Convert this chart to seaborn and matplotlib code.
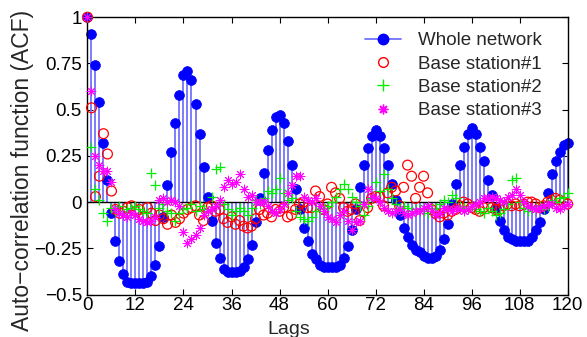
import numpy as np
import matplotlib
matplotlib.use("Agg")
import matplotlib.pyplot as plt
import seaborn as sns
from matplotlib.lines import Line2D
from matplotlib.legend_handler import HandlerLine2D

# ACF values, lags 0..120
lags = list(range(121))

whole_network = [
    1.00, 0.91, 0.74, 0.54, 0.32, 0.12, -0.06, -0.21, -0.32, -0.39,
    -0.43, -0.44, -0.44, -0.44, -0.44, -0.43, -0.40, -0.34, -0.24, -0.08,
    0.09, 0.27, 0.43, 0.58, 0.69, 0.71, 0.66, 0.53, 0.37, 0.19,
    0.03, -0.10, -0.22, -0.30, -0.36, -0.38, -0.38, -0.38, -0.37, -0.35,
    -0.31, -0.23, -0.11, 0.02, 0.16, 0.28, 0.39, 0.46, 0.47, 0.43,
    0.33, 0.20, 0.07, -0.04, -0.14, -0.21, -0.28, -0.31, -0.34, -0.35,
    -0.35, -0.35, -0.35, -0.34, -0.30, -0.24, -0.15, -0.04, 0.08, 0.20,
    0.29, 0.36, 0.39, 0.36, 0.29, 0.20, 0.10, 0.01, -0.07, -0.14,
    -0.19, -0.23, -0.26, -0.27, -0.29, -0.30, -0.30, -0.29, -0.26, -0.20,
    -0.12, -0.01, 0.10, 0.20, 0.30, 0.37, 0.40, 0.37, 0.30, 0.22,
    0.12, 0.04, -0.03, -0.10, -0.15, -0.19, -0.20, -0.21, -0.21, -0.21,
    -0.21, -0.19, -0.15, -0.11, -0.04, 0.05, 0.15, 0.22, 0.27, 0.31,
    0.32,
]

station_1 = [
    1.00, 0.51, 0.03, 0.14, 0.37, 0.26, 0.06, -0.04, -0.06, -0.05,
    -0.03, -0.02, -0.05, -0.04, -0.08, -0.03, -0.06, -0.10, -0.07, -0.09,
    -0.12, -0.07, -0.11, -0.09, -0.06, -0.04, -0.03, -0.02, -0.07, -0.10,
    -0.03, -0.02, -0.05, -0.04, -0.09, -0.11, -0.08, -0.12, -0.10, -0.13,
    -0.14, -0.13, -0.09, -0.04, -0.07, -0.06, -0.08, -0.04, -0.05, -0.03,
    -0.08, -0.07, -0.04, -0.01, 0.00, -0.03, -0.03, 0.06, 0.03, -0.04,
    -0.01, 0.08, 0.05, 0.02, -0.03, -0.05, -0.04, -0.01, -0.10, -0.05,
    -0.03, 0.02, 0.03, 0.03, -0.02, 0.05, 0.08, 0.06, -0.02, 0.08,
    0.20, 0.14, 0.02, 0.08, 0.14, 0.05, -0.04, -0.06, -0.08, -0.06,
    -0.07, -0.05, -0.04, -0.02, 0.00, -0.01, -0.03, -0.04, -0.05, -0.03,
    -0.01, -0.03, -0.04, -0.04, -0.02, -0.01, -0.02, -0.01, -0.02, -0.01,
    0.00, 0.00, -0.01, -0.03, -0.02, 0.00, 0.01, 0.02, 0.01, 0.00,
    -0.01,
]

station_2 = [
    1.00, 0.30, 0.07, 0.01, -0.06, -0.10, -0.03, -0.05, -0.02, -0.06,
    -0.04, -0.03, -0.02, -0.04, -0.05, -0.06, 0.16, 0.09, -0.03, -0.01,
    -0.05, -0.06, -0.10, -0.06, -0.04, -0.03, -0.01, -0.05, -0.02, -0.04,
    -0.05, 0.03, 0.18, 0.19, -0.01, -0.04, -0.07, -0.05, -0.03, -0.05,
    -0.07, -0.03, 0.01, -0.01, 0.02, 0.06, 0.05, 0.07, 0.13, 0.05,
    0.01, 0.02, -0.05, -0.08, -0.09, -0.10, -0.08, -0.05, -0.04, -0.03,
    -0.02, 0.00, 0.03, 0.07, 0.10, 0.07, 0.03, 0.00, -0.02, -0.07,
    -0.02, 0.02, 0.11, 0.06, 0.15, 0.07, 0.02, -0.01, -0.03, -0.02,
    -0.03, -0.05, -0.04, -0.04, -0.05, -0.06, -0.04, -0.03, -0.01, 0.01,
    0.00, 0.04, 0.02, -0.02, -0.03, -0.04, -0.02, -0.04, -0.05, -0.06,
    -0.03, -0.05, -0.07, -0.06, -0.04, -0.01, 0.12, 0.13, 0.00, -0.03,
    -0.05, -0.04, -0.03, -0.02, -0.04, -0.02, 0.01, 0.00, 0.02, 0.03,
    0.05,
]

station_3 = [
    1.00, 0.60, 0.25, 0.20, 0.17, 0.17, 0.11, -0.04, -0.06, -0.07,
    -0.08, -0.06, -0.07, -0.09, -0.10, -0.11, -0.10, -0.08, 0.01, 0.02,
    0.00, 0.01, 0.00, -0.02, -0.16, -0.22, -0.20, -0.18, -0.14, -0.07,
    -0.05, -0.04, -0.02, 0.01, 0.08, 0.12, 0.10, 0.11, 0.15, 0.07,
    0.03, 0.04, 0.00, 0.00, 0.00, -0.02, -0.05, -0.06, -0.04, -0.01,
    0.05, 0.09, 0.14, 0.14, 0.03, 0.01, 0.00, 0.02, -0.02, -0.05,
    -0.08, -0.09, -0.11, -0.07, -0.05, -0.10, -0.15, -0.11, -0.10, -0.01,
    0.07, 0.03, 0.02, 0.00, -0.03, -0.05, -0.06, -0.05, -0.04, -0.06,
    -0.07, -0.06, -0.05, -0.05, -0.03, -0.02, -0.05, -0.07, -0.06, -0.03,
    -0.04, -0.05, -0.03, -0.04, -0.05, -0.04, -0.02, -0.01, 0.00, 0.02,
    0.02, 0.03, 0.02, 0.01, 0.00, 0.03, 0.04, 0.07, 0.04, 0.00,
    -0.02, -0.03, -0.04, -0.03, -0.02, -0.01, -0.01, -0.03, -0.04, -0.02,
    -0.01,
]

x_ticks = list(range(0, 121, 12))
y_ticks = [-0.5, -0.25, 0, 0.25, 0.5, 0.75, 1]
y_tick_labels = ["\u22120.5", "\u22120.25", "0", "0.25", "0.5", "0.75", "1"]
labels = ["Whole network", "Base station#1", "Base station#2", "Base station#3"]

STEM = "#7373ff"
BLUE = "#0000ff"
RED = "#ff0000"
GREEN = "#00ee00"
MAGENTA = "#ff00ff"
ASTERISK = (8, 2, 0)


class RightMarkerHandler(HandlerLine2D):
    """Legend handle with the marker sitting at the right end of the line."""
    def get_xdata(self, legend, xdescent, ydescent, width, height, fontsize):
        xdata = np.array([-xdescent, -xdescent + width])
        return xdata, xdata[-1:]


sns.set_style("ticks")
plt.rcParams["font.family"] = ["Liberation Sans", "DejaVu Sans"]

fig = plt.figure(figsize=(5.87, 3.37), dpi=100)
ax = fig.add_axes([0.149, 0.126, 0.818, 0.823])

# stems for the whole network
ax.vlines(lags, 0, whole_network, color=STEM, linewidth=1.3, zorder=1)
ax.axhline(0, color="black", linewidth=1.0, zorder=1.5)
sns.scatterplot(x=lags, y=whole_network, ax=ax, marker="o", s=50,
                color=BLUE, edgecolor=BLUE, linewidth=0.5, zorder=2, clip_on=False)
sns.scatterplot(x=lags, y=station_1, ax=ax, marker="o", s=50,
                facecolors="none", edgecolor=RED, linewidth=0.9, zorder=3, clip_on=False)
sns.scatterplot(x=lags, y=station_2, ax=ax, marker="+", s=55,
                color=GREEN, linewidth=0.9, zorder=4, clip_on=False)
sns.scatterplot(x=lags, y=station_3, ax=ax, marker=ASTERISK, s=40,
                color=MAGENTA, linewidth=0.7, zorder=5, clip_on=False)

ax.set_xlim(0, 120)
ax.set_ylim(-0.5, 1)
ax.set_xticks(x_ticks)
ax.set_yticks(y_ticks)
ax.set_yticklabels(y_tick_labels)
ax.tick_params(direction="in", top=True, right=True, length=4, width=0.8,
               labelsize=13.5, pad=2, colors="black")
ax.tick_params(axis="y", pad=4)
for sp in ax.spines.values():
    sp.set_linewidth(1.0)
    sp.set_color("black")

ax.set_xlabel("Lags", fontsize=14, va="top")
ax.xaxis.set_label_coords(0.42, -0.095)
ax.set_ylabel("Auto\u2212correlation function (ACF)", fontsize=16.5, va="bottom")
ax.yaxis.set_label_coords(-0.112, 0.446)

# legend proxies
handles = [
    Line2D([], [], color=STEM, linewidth=1.3, marker="o", markersize=7.5,
           markerfacecolor=BLUE, markeredgecolor=BLUE),
    Line2D([], [], linestyle="none", marker="o", markersize=7,
           markerfacecolor="none", markeredgecolor=RED),
    Line2D([], [], linestyle="none", marker="+", markersize=8, color=GREEN),
    Line2D([], [], linestyle="none", marker=ASTERISK, markersize=7, color=MAGENTA),
]
ax.legend(handles, labels, loc="upper right", bbox_to_anchor=(0.977, 1.0),
          frameon=False, numpoints=1, fontsize=13.5, handlelength=1.9,
          handletextpad=0.9, labelspacing=0.33, borderaxespad=0.4,
          handler_map={Line2D: RightMarkerHandler()})

fig.savefig("out.png", dpi=100)
